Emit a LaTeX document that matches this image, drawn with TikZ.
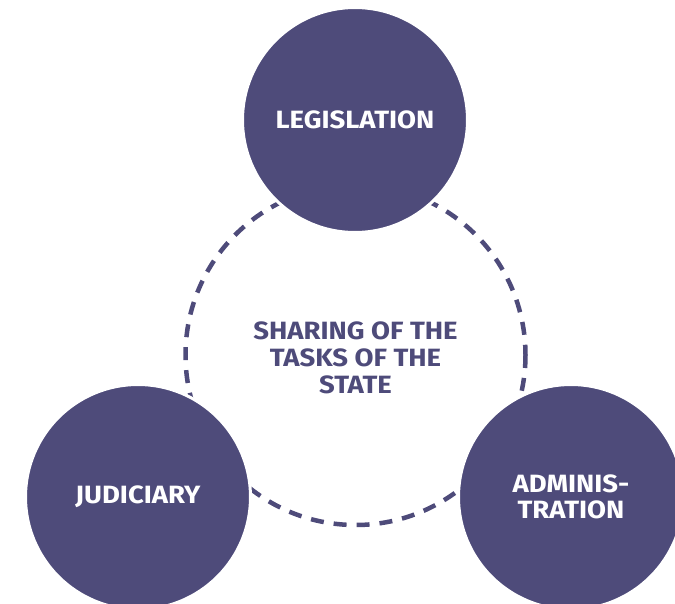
\documentclass[tikz,border=0pt]{standalone}
\usepackage{fontspec}
\setmainfont{Fira Sans}[FakeStretch=1.1]
\definecolor{navy}{RGB}{78,75,122}
\begin{document}
\begin{tikzpicture}[x=1pt,y=-1pt,
  big/.style={circle,fill=navy,draw=white,line width=3pt,minimum size=225pt,inner sep=0pt,
    text=white,font=\fontsize{25}{26}\selectfont\bfseries,align=center},
  ring/.style={draw=navy,line width=4.5pt,dash pattern=on 13pt off 10pt}]
\useasboundingbox (0,0) rectangle (675,603);
\begin{scope}
\clip (0,0) rectangle (675,603);
\node[circle,minimum size=340pt,inner sep=0pt] (c) at (355.5,355) {};
\draw[ring] (c.center) circle (170);
\node[font=\fontsize{25}{27}\selectfont\bfseries,text=navy,align=center] (t) at (355.5,358) {SHARING OF THE\\TASKS OF THE\\STATE};
\node[big] (leg) at (355,120) {LEGISLATION};
\node[big] (jud) at (138,497) {JUDICIARY};
\node[big] (adm) at (571,497) {ADMINIS-\\TRATION};
\end{scope}
\end{tikzpicture}
\end{document}
